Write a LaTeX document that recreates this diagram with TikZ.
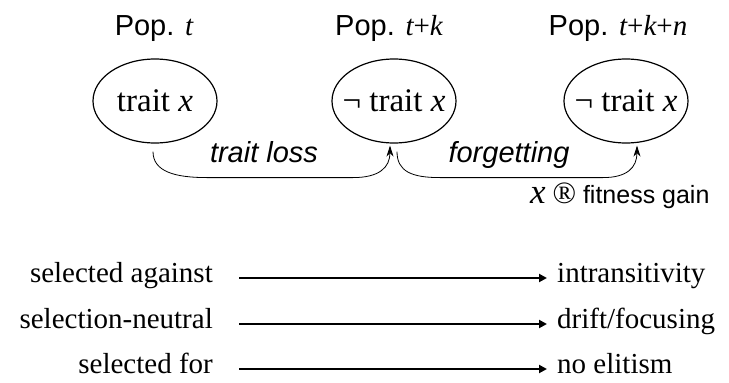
\documentclass[tikz,border=0pt]{standalone}
\usepackage{fontspec}
\setmainfont{Liberation Serif}
\setsansfont{Liberation Sans}
\usetikzlibrary{arrows.meta,shapes.geometric}
\newcommand{\popvar}[1]{{\rmfamily\itshape #1}}

\begin{document}
\begin{tikzpicture}[x=1pt,y=-1pt,
    popnode/.style={ellipse,draw,line width=1.2pt,minimum width=124pt,minimum height=84pt,
        inner xsep=-14pt,inner ysep=0pt,font=\fontsize{33}{36}\selectfont},
    poplabel/.style={anchor=base,font=\sffamily\fontsize{29}{32}\selectfont},
    steplabel/.style={anchor=base,font=\sffamily\itshape\fontsize{29}{32}\selectfont},
    trans/.style={line width=0.8pt,-{Stealth[length=11pt,width=7pt]}},
    effect/.style={line width=2pt,shorten <=26pt,shorten >=10pt,-{Triangle[length=8pt,width=8pt]}},
    leftlab/.style={anchor=base east,inner sep=0pt,text height=8pt,text depth=0pt,font=\fontsize{29}{32}\selectfont},
    rightlab/.style={anchor=base west,inner sep=0pt,text height=8pt,text depth=0pt,font=\fontsize{29}{32}\selectfont}
]
\useasboundingbox (0,0) rectangle (729,383);

% populations
\node[poplabel] (pop1) at (154,35) {Pop. \popvar{t}};
\node[poplabel] (pop2) at (389,35) {Pop. \popvar{t}{\rmfamily +}\popvar{k}};
\node[poplabel] (pop3) at (618,35) {Pop. \popvar{t}{\rmfamily +}\popvar{k}{\rmfamily +}\popvar{n}};
\node[popnode] (e1) at (155,101) {trait \textit{x}\hspace{12pt}};
\node[popnode] (e2) at (394,101) {¬ trait \textit{x}\hspace{12pt}};
\node[popnode] (e3) at (626,101) {¬ trait \textit{x}\hspace{8pt}};

% transitions
\coordinate (s1) at ([shift={(-2,8)}]e1.south);
\coordinate (t2) at ([shift={(-4,2)}]e2.south);
\coordinate (s2) at ([shift={(3,8)}]e2.south);
\coordinate (t3) at ([shift={(11,2)}]e3.south);
\draw[trans] (s1) .. controls +(0,20) and +(-32,0) .. ([shift={(54,26)}]s1)
    -- ([shift={(-37,32)}]t2) .. controls +(26,0) and +(0,22) .. (t2);
\draw[trans] (s2) .. controls +(0,20) and +(-28,0) .. ([shift={(43,26)}]s2)
    -- ([shift={(-34,32)}]t3) .. controls +(24,0) and +(0,22) .. (t3);
\node[steplabel] (loss) at (264,162) {trait loss};
\node[steplabel] (forget) at (509,162) {forgetting};
\node[anchor=base east,font=\sffamily\fontsize{25}{28}\selectfont] (gain) at (713,203)
    {{\rmfamily\itshape\fontsize{35}{38}\selectfont x} {\rmfamily\fontsize{31}{34}\selectfont ®} fitness gain};

% selection
\node[leftlab] (against) at (213,282) {selected against};
\node[leftlab] (neutral) at (213,328) {selection-neutral};
\node[leftlab] (for) at (213,373) {selected for};
\node[rightlab] (intrans) at (557,282) {intransitivity};
\node[rightlab] (drift) at (557,328) {drift/focusing};
\node[rightlab] (elit) at (557,373) {no elitism};
\draw[effect] (against.east) -- (intrans.west);
\draw[effect] (neutral.east) -- (drift.west);
\draw[effect] (for.east) -- (elit.west);
\end{tikzpicture}
\end{document}
